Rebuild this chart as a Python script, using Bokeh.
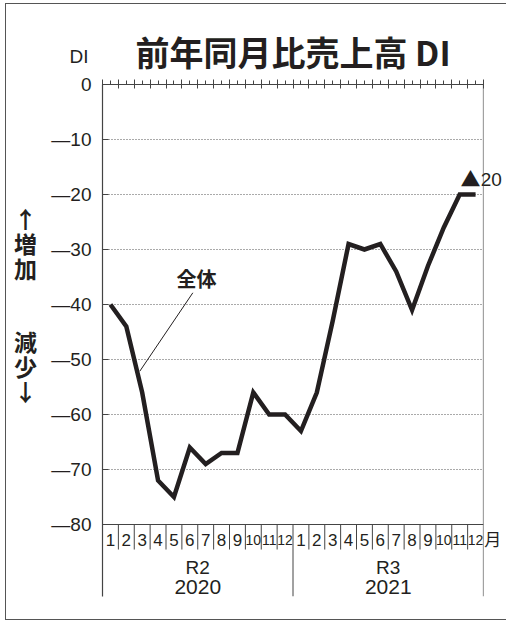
from bokeh.plotting import figure
from bokeh.models import FixedTicker, LinearAxis, Span, Label, Range1d
from bokeh.core.properties import value
from bokeh.embed import file_html
from bokeh.resources import INLINE

# ---- data ----
months = list(range(1, 25))
month_labels = [str(m) for m in range(1, 13)] * 2
di_all = [-40, -44, -56, -72, -75, -66, -69, -67, -67, -56, -60, -60,
          -63, -56, -43, -29, -30, -29, -34, -41, -33, -26, -20, -20]
y_ticks = [0, -10, -20, -30, -40, -50, -60, -70, -80]
y_tick_labels = {t: ("0" if t == 0 else "—" + str(-t)) for t in y_ticks}
era_labels = ["R2", "R3"]
year_labels = ["2020", "2021"]
year_centers = [6.5, 18.5]
series_label = "全体"
title_text = "前年同月比売上高 DI"
unit_label = "DI"
last_mark = "▲"
last_value = "20"
side_label = "↑\n増\n加\n\n\n減\n少\n↓"
month_unit = "月"

INK = "#231f20"
AX = "#444444"
LAT = "Liberation Sans"
CJK = "Noto Sans CJK JP"

FRAME_H = 512
PX_PER_UNIT = 5.5
Y_MIN = -FRAME_H / PX_PER_UNIT

p = figure(frame_width=381, frame_height=FRAME_H,
           x_range=Range1d(0.5, 24.5), y_range=Range1d(Y_MIN, 0),
           output_backend="svg", toolbar_location=None,
           min_border_left=95, min_border_right=23,
           min_border_top=80, min_border_bottom=23,
           x_axis_location=None, y_axis_location="left")
p.outline_line_color = None
p.background_fill_color = "white"
p.border_fill_color = "white"
p.styles = {"margin-left": "5px", "margin-top": "3px",
            "border-left": "1.5px solid #555", "border-top": "1.5px solid #555",
            "border-bottom": "1.5px solid #555"}

# title
p.title.text = title_text
p.title.align = "center"
p.title.text_font = CJK
p.title.text_font_size = "34px"
p.title.text_font_style = "bold"
p.title.text_color = INK
p.title.standoff = 8

# grid
p.xgrid.visible = False
p.ygrid.ticker = FixedTicker(ticks=y_ticks[1:-1])
p.ygrid.grid_line_color = "#555555"
p.ygrid.grid_line_dash = "1 2"
p.ygrid.grid_line_width = 1

# y axis
ya = p.yaxis[0]
ya.ticker = FixedTicker(ticks=y_ticks)
ya.major_label_overrides = y_tick_labels
ya.major_label_text_font = LAT
ya.major_label_text_font_size = "19px"
ya.major_label_text_color = INK
ya.major_label_standoff = 11
ya.major_tick_in = 6
ya.major_tick_out = 0
ya.major_tick_line_color = AX
ya.minor_tick_line_color = None
ya.axis_line_color = AX
ya.axis_line_width = 1.2

# top axis with month ticks
top = LinearAxis(ticker=FixedTicker(ticks=[m - 0.5 for m in months] + [24.5],
                                    minor_ticks=months),
                 major_label_text_font_size="0px",
                 major_label_standoff=0,
                 major_tick_in=4, major_tick_out=5,
                 minor_tick_in=0, minor_tick_out=4,
                 axis_line_color=AX, major_tick_line_color=AX,
                 minor_tick_line_color=AX)
p.add_layout(top, "above")

# frame lines
p.add_layout(Span(location=24.5, dimension="height", line_color=AX, line_width=1.2))
p.add_layout(Span(location=-80, dimension="width", line_color=AX, line_width=1.2))

# bottom month cells
seps = [m + 0.5 for m in months[:-1] if m != 12]
p.segment(x0=seps, y0=[-80] * len(seps), x1=seps, y1=[-84.55] * len(seps),
          line_color=AX, line_width=1)
p.segment(x0=[12.5], y0=[-80], x1=[12.5], y1=[Y_MIN], line_color=AX, line_width=1)
month_sizes = ["17px" if len(s) == 1 else "14px" for s in month_labels]
p.text(x=months, y=[-82.8] * len(months), text=month_labels,
       text_align="center", text_baseline="middle",
       text_font=value(LAT), text_font_size=month_sizes, text_color=INK)
p.text(x=year_centers, y=[-87.8] * 2, text=era_labels,
       text_align="center", text_baseline="middle",
       text_font=value(LAT), text_font_size="19px", text_color=INK)
p.text(x=year_centers, y=[-91.45] * 2, text=year_labels,
       text_align="center", text_baseline="middle",
       text_font=value(LAT), text_font_size="21px", text_color=INK)

# data line
p.line(months, di_all, line_width=4.5, line_color=INK, line_join="miter")

# leader line for series label
p.segment(x0=[6.19], y0=[-37.87], x1=[2.85], y1=[-52.13], line_color=INK, line_width=1)
p.add_layout(Label(x=6.42, y=-35.2, text=series_label, text_align="center",
                   text_baseline="middle", text_font=CJK, text_font_size="20px",
                   text_font_style="bold", text_color=INK))

# labels outside the frame (placed in side panels so they are not clipped)
p.add_layout(Label(x=-0.38, y=5.05, text=unit_label, text_align="right",
                   text_baseline="middle", text_font=LAT, text_font_size="19px",
                   text_color=INK), "left")
p.add_layout(Label(x=-4.35, y=-40.0, text=side_label, text_align="center",
                   text_baseline="middle", text_font=CJK, text_font_size="23px",
                   text_font_style="bold", text_color=INK, text_line_height=0.725),
             "left")
p.add_layout(Label(x=months[-1] - 0.32, y=di_all[-1] + 3.0, text=last_mark,
                   text_align="center", text_baseline="middle", text_font=CJK,
                   text_font_size="20px", text_color=INK), "right")
p.add_layout(Label(x=months[-1] + 0.33, y=di_all[-1] + 2.8, text=last_value,
                   text_align="left", text_baseline="middle", text_font=LAT,
                   text_font_size="19px", text_color=INK), "right")
p.add_layout(Label(x=24.55, y=-82.6, text=month_unit, text_align="left",
                   text_baseline="middle", text_font=CJK, text_font_size="17px",
                   text_color=INK), "right")

open("out.html", "w").write(file_html(p, INLINE))
